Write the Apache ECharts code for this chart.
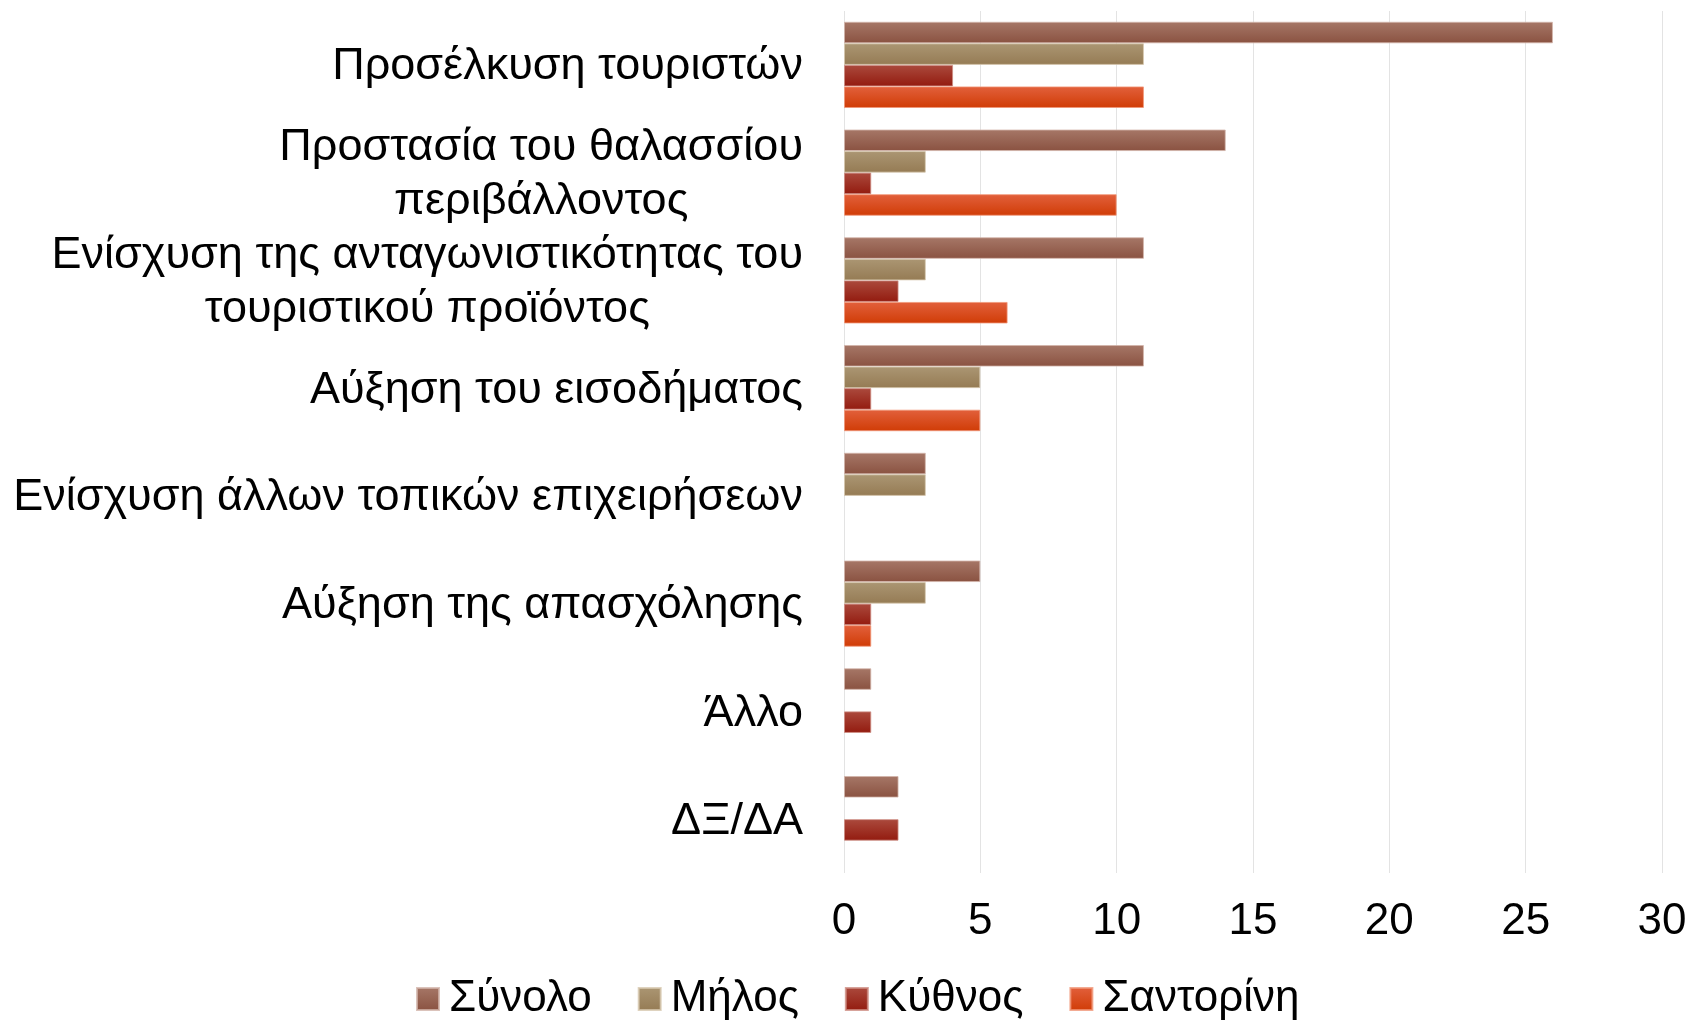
<!DOCTYPE html>
<html lang="el">
<head>
    <meta charset="UTF-8">
    <title>Οφέλη</title>
    <style>
        html, body { margin: 0; padding: 0; background: #fff; }
        #main { width: 1690px; height: 1020px; }
    </style>
</head>
<body>
<div id="main"></div>
<script src="https://cdn.jsdelivr.net/npm/echarts@6/dist/echarts.min.js"></script>
<script type="text/javascript">
    var categories = [
        'Προσέλκυση τουριστών',
        'Προστασία του θαλασσίου\nπεριβάλλοντος',
        'Ενίσχυση της ανταγωνιστικότητας του\nτουριστικού προϊόντος',
        'Αύξηση του εισοδήματος',
        'Ενίσχυση άλλων τοπικών επιχειρήσεων',
        'Αύξηση της απασχόλησης',
        'Άλλο',
        'ΔΞ/ΔΑ'
    ];
    var synolo    = [26, 14, 11, 11, 3, 5, 1, 2];
    var milos     = [11, 3, 3, 5, 3, 3, 0, 0];
    var kythnos   = [4, 1, 2, 1, 0, 1, 1, 2];
    var santorini = [11, 10, 6, 5, 0, 1, 0, 0];
    var xTicks = [0, 5, 10, 15, 20, 25, 30];

    var font = '"Liberation Sans", Arial, sans-serif';

    function grad(top, bottom) {
        return new echarts.graphic.LinearGradient(0, 0, 0, 1, [
            {offset: 0, color: top},
            {offset: 1, color: bottom}
        ]);
    }

    function bar(name, data, top, bottom, border) {
        return {
            name: name,
            type: 'bar',
            // zero bars get no border so nothing is drawn
            data: data.map(function (v) {
                return v === 0 ? {value: 0, itemStyle: {borderWidth: 0}} : v;
            }),
            barGap: '0%',
            barCategoryGap: '20%',
            itemStyle: {
                color: grad(top, bottom),
                borderColor: border,
                borderWidth: 1
            }
        };
    }

    var myChart = echarts.init(document.getElementById('main'));
    var option = {
        backgroundColor: '#fff',
        animation: false,
        textStyle: {fontFamily: font},
        grid: {
            left: 844,
            right: 28,
            top: 11,
            bottom: 147
        },
        legend: {
            bottom: -6,
            left: 411,
            icon: 'rect',
            itemWidth: 22,
            itemHeight: 22,
            itemGap: 46,
            textStyle: {fontSize: 44, fontFamily: font, color: '#000', padding: [0, 0, 0, 5]},
            data: ['Σύνολο', 'Μήλος', 'Κύθνος', 'Σαντορίνη']
        },
        xAxis: {
            type: 'value',
            min: 0,
            max: 30,
            interval: 5,
            axisLine: {show: false},
            axisTick: {show: false},
            splitLine: {lineStyle: {color: '#e3e3e3', width: 1}},
            axisLabel: {
                fontSize: 44,
                color: '#000',
                fontFamily: font,
                margin: 27,
                formatter: function (v) {
                    return xTicks.indexOf(v) >= 0 ? String(v) : '';
                }
            }
        },
        yAxis: {
            type: 'category',
            inverse: true,
            data: categories,
            axisLine: {show: false},
            axisTick: {show: false},
            axisLabel: {
                margin: 41,
                color: '#000',
                fontFamily: font,
                fontSize: 45,
                lineHeight: 54,
                formatter: function (v) {
                    return v.split('\n').map(function (l) {
                        return '{c|' + l + '}';
                    }).join('\n');
                },
                rich: {
                    c: {
                        align: 'center',
                        fontSize: 45,
                        lineHeight: 54,
                        fontFamily: font,
                        color: '#000',
                        padding: [4, 0, 0, 0]
                    }
                }
            }
        },
        series: [
            bar('Σύνολο', synolo, '#a67767', '#8a5241', 'rgba(210,180,170,0.8)'),
            bar('Μήλος', milos, '#ab9673', '#957b54', 'rgba(215,200,175,0.8)'),
            bar('Κύθνος', kythnos, '#ab4a3d', '#931b0f', 'rgba(205,140,130,0.8)'),
            bar('Σαντορίνη', santorini, '#e2603c', '#d03c06', 'rgba(240,150,120,0.8)')
        ]
    };
    myChart.setOption(option);
</script>
</body>
</html>
